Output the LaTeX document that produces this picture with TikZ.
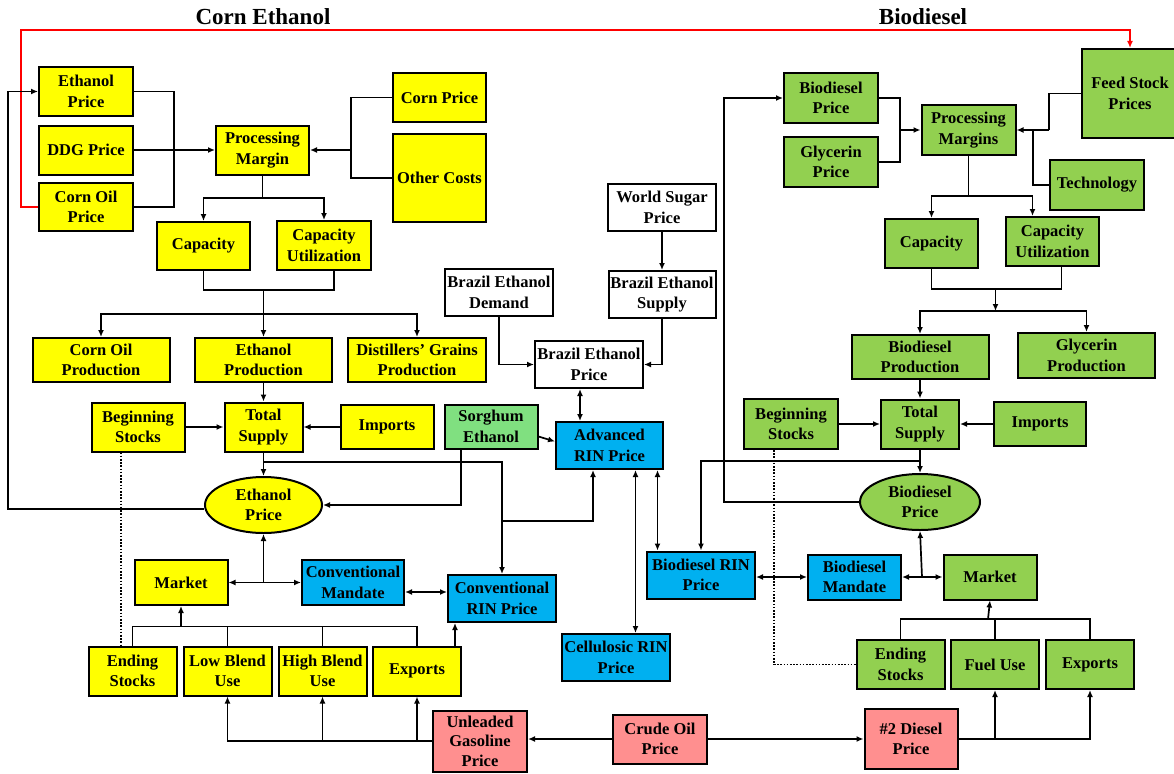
\documentclass[tikz,border=0pt]{standalone}
\usepackage{fontspec}
\setmainfont{Liberation Serif}
\usetikzlibrary{arrows.meta,shapes.geometric}
\definecolor{ethyellow}{HTML}{FFFF00}
\definecolor{biogreen}{HTML}{92D050}
\definecolor{sorggreen}{HTML}{80E080}
\definecolor{rinblue}{HTML}{00B0F0}
\definecolor{oilpink}{HTML}{FF8F8F}

\begin{document}
\begin{tikzpicture}[x=1pt, y=-1pt,
	box/.style = {draw, line width=2pt, align=center, inner sep=0pt, font=\fontsize{16.5}{20.5}\selectfont\bfseries},
	sz/.style 2 args = {minimum width=#1, minimum height=#2},
	eth/.style = {box, fill=ethyellow},
	bio/.style = {box, fill=biogreen},
	sorg/.style = {box, fill=sorggreen},
	rin/.style = {box, fill=rinblue},
	oil/.style = {box, fill=oilpink},
	wbox/.style = {box, fill=white},
	eprice/.style = {box, ellipse, fill=ethyellow},
	bprice/.style = {box, ellipse, fill=biogreen},
	ln/.style = {line width=1.7pt},
	arr/.style = {line width=1.7pt, -{Latex[length=7pt,width=6pt]}},
	darr/.style = {line width=1.7pt, {Latex[length=7pt,width=6pt]}-{Latex[length=7pt,width=6pt]}},
	redarr/.style = {line width=1.4pt, draw=red, -{Latex[length=7pt,width=6pt]}},
	dots/.style = {line width=1.6pt, dash pattern=on 1.6pt off 1.6pt},
	title/.style = {font=\fontsize{23}{26}\selectfont\bfseries}]
	\useasboundingbox (0,0) rectangle (1174,773);

	\node[title] (ttleth) at (263,17) {Corn Ethanol};
	\node[title] (ttlbio) at (923,17) {Biodiesel};

	\node[eth, sz={94}{49}] (ethp) at (86,91.5) {Ethanol\\Price};
	\node[eth, sz={94}{49}] (ddgp) at (86,150) {DDG Price};
	\node[eth, sz={94}{48}] (coilp) at (86,207) {Corn Oil\\Price};
	\node[eth, sz={93}{49}] (pmarg) at (262.5,150) {Processing\\Margin};
	\node[eth, sz={93}{49}] (cornp) at (439.5,97.5) {Corn Price};
	\node[eth, sz={93}{88}] (ocost) at (439.5,178) {Other Costs};
	\node[eth, sz={93}{48}] (ecap) at (203.5,246) {Capacity};
	\node[eth, sz={94}{49}] (ecaputil) at (324,245.5) {Capacity\\Utilization};
	\node[eth, sz={137}{44}] (coilprod) at (101,360) {Corn Oil\\Production};
	\node[eth, sz={137}{44}] (ethprod) at (263.5,360) {Ethanol\\Production};
	\node[eth, sz={138}{44}] (dgprod) at (417,360) {Distillers’ Grains\\Production};
	\node[eth, sz={93}{49}] (ebegst) at (138,427) {Beginning\\Stocks};
	\node[eth, sz={78}{49}] (etsup) at (263.5,427) {Total\\Supply};
	\node[eth, sz={93}{44}] (eimp) at (387,427) {Imports};
	\node[sorg, sz={93}{44}] (sorgh) at (491,426.5) {Sorghum\\Ethanol};
	\node[eprice, sz={117}{56}] (ethprice) at (263.5,505) {Ethanol\\Price};
	\node[eth, sz={93}{45}] (emarket) at (181,582.5) {Market};
	\node[rin, sz={102}{45}] (convmand) at (353,582.5) {Conventional\\Mandate};
	\node[rin, sz={108}{47}] (convrin) at (502,598.5) {Conventional\\RIN Price};
	\node[eth, sz={88}{49}] (eendst) at (132.5,671) {Ending\\Stocks};
	\node[eth, sz={88}{49}] (lowbl) at (227.5,671) {Low Blend\\Use};
	\node[eth, sz={88}{49}] (highbl) at (322.5,671) {High Blend\\Use};
	\node[eth, sz={88}{49}] (eexp) at (417,671) {Exports};
	\node[oil, sz={94}{61}, font=\fontsize{16.5}{19.5}\selectfont\bfseries] (unlgas) at (480,741) {Unleaded\\Gasoline\\Price};

	\node[wbox, sz={108}{47}] (bedem) at (499,292.5) {Brazil Ethanol\\Demand};
	\node[wbox, sz={108}{47}] (bepr) at (589,364.5) {Brazil Ethanol\\Price};
	\node[wbox, sz={108}{47}] (wsug) at (662,207.5) {World Sugar\\Price};
	\node[wbox, sz={107}{47}] (besup) at (662,294.5) {Brazil Ethanol\\Supply};
	\node[rin, sz={107}{47}] (advrin) at (609.5,445.5) {Advanced\\RIN Price};
	\node[rin, sz={108}{47}] (cellrin) at (616,657.5) {Cellulosic RIN\\Price};
	\node[rin, sz={108}{47}] (biorin) at (701,575) {Biodiesel RIN\\Price};
	\node[oil, sz={94}{49}] (crude) at (660,739) {Crude Oil\\Price};

	\node[bio, sz={94}{50}] (biop) at (831,98) {Biodiesel\\Price};
	\node[bio, sz={94}{50}] (glyp) at (831,162) {Glycerin\\Price};
	\node[bio, sz={94}{49}] (pmargs) at (968.5,130) {Processing\\Margins};
	\node[bio, sz={96}{89}] (feed) at (1130,93.5) {Feed Stock\\Prices};
	\node[bio, sz={94}{50}] (tech) at (1097,185) {Technology};
	\node[bio, sz={93}{49}] (bcap) at (931.5,243.5) {Capacity};
	\node[bio, sz={93}{49}] (bcaputil) at (1052.5,241.5) {Capacity\\Utilization};
	\node[bio, sz={137}{44}] (bioprod) at (920,357) {Biodiesel\\Production};
	\node[bio, sz={137}{45}] (glyprod) at (1086.5,355.5) {Glycerin\\Production};
	\node[bio, sz={94}{50}] (bbegst) at (791,424) {Beginning\\Stocks};
	\node[bio, sz={78}{49}] (btsup) at (920,424) {Total\\Supply};
	\node[bio, sz={92}{44}] (bimp) at (1040,424) {Imports};
	\node[bprice, sz={120}{56}] (bioprice) at (920,502) {Biodiesel\\Price};
	\node[rin, sz={93}{45}] (biomand) at (854.5,577) {Biodiesel\\Mandate};
	\node[bio, sz={93}{45}] (bmarket) at (990,577) {Market};
	\node[bio, sz={88}{49}] (bendst) at (900.5,664.5) {Ending\\Stocks};
	\node[bio, sz={88}{49}] (fuel) at (995,664.5) {Fuel Use};
	\node[bio, sz={88}{49}] (bexp) at (1090,664.5) {Exports};
	\node[oil, sz={93}{60}] (diesel) at (911,739) {\#2 Diesel\\Price};

	\coordinate (rtop) at (21,30);
	\coordinate (lft) at (8,300);
	\coordinate (jpm) at (174,150);
	\coordinate (jpc) at (351,150);
	\coordinate (jcap) at (262.5,198);
	\coordinate (jsum) at (263.5,290);
	\coordinate (jprod) at (263.5,314);
	\coordinate (jts) at (263.5,462);
	\coordinate (jadv) at (502,521);
	\coordinate (jmk) at (263.5,582.5);
	\coordinate (jbot) at (181,626.5);
	\coordinate (jbpm) at (900,130);
	\coordinate (jfeed) at (1049,130);
	\coordinate (jtech) at (1033,130);
	\coordinate (jbcap) at (968.5,196);
	\coordinate (jbsum) at (995.5,289);
	\coordinate (jbprod) at (995.5,311);
	\coordinate (jbts) at (920,461);
	\coordinate (bvert) at (724,300);
	\coordinate (jbmk) at (922,577);
	\coordinate (jbbot) at (988,619);

	\draw[redarr] (coilp.west) -| (rtop) -| (feed.north);
	\draw[arr] ([yshift=-4pt]ethprice.west) -| (lft) |- (ethp.west);

	\draw[ln] (ethp.east) -| (jpm);
	\draw[ln] (coilp.east) -| (jpm);
	\draw[arr] (ddgp.east) -- (pmarg.west);
	\draw[ln] (cornp.west) -| (jpc);
	\draw[ln] (ocost.west) -| (jpc);
	\draw[arr] (jpc) -- (pmarg.east);
	\draw[ln] (pmarg.south) -- (jcap);
	\draw[arr] (jcap) -| (ecap.north);
	\draw[arr] (jcap) -| (ecaputil.north);
	\draw[ln] (ecap.south) |- (jsum) -| ([xshift=10pt]ecaputil.south);
	\draw[arr] (jsum) -- (ethprod.north);
	\draw[arr] (jprod) -| (coilprod.north);
	\draw[arr] (jprod) -| (dgprod.north);
	\draw[arr] (ethprod.south) -- (etsup.north);
	\draw[arr] (ebegst.east) -- (etsup.west);
	\draw[arr] (eimp.west) -- (etsup.east);
	\draw[arr] (etsup.south) -- (ethprice.north);
	\draw[arr] (jts) -| (convrin.north);
	\draw[arr] (jadv) -| ([xshift=-16.5pt]advrin.south);
	\draw[arr] ([xshift=-30pt]sorgh.south) |- (ethprice.east);
	\draw[arr] ([yshift=-10pt]sorgh.east) -- ([yshift=4pt]advrin.west);
	\draw[arr] (jmk) -- (ethprice.south);
	\draw[arr] (jmk) -- (emarket.east);
	\draw[arr] (jmk) -- (convmand.west);
	\draw[darr] ([yshift=-9.5pt]convmand.east) -- ([yshift=-9.5pt]convmand.east -| convrin.west);
	\draw[ln] (eendst.north) |- (jbot) -| (eexp.north);
	\draw[ln] (lowbl.north) -- (lowbl.north |- jbot);
	\draw[ln] (highbl.north) -- (highbl.north |- jbot);
	\draw[arr] (jbot) -- (emarket.south);
	\draw[arr] ([xshift=38pt]eexp.north) -- ([xshift=38pt]eexp.north |- convrin.south);
	\draw[dots] ([xshift=-17pt]ebegst.south) -- ([xshift=-17pt]ebegst.south |- eendst.north);
	\draw[arr] (unlgas.west) -| (lowbl.south);
	\draw[arr] (unlgas.west -| highbl.south) -- (highbl.south);
	\draw[arr] (unlgas.west -| eexp.south) -- (eexp.south);
	\draw[arr] (crude.west) -- (unlgas.east |- crude.west);
	\draw[arr] (crude.east) -- (diesel.west);

	\draw[arr] (wsug.south) -- (besup.north);
	\draw[arr] (bedem.south) |- (bepr.west);
	\draw[arr] (besup.south) |- (bepr.east);
	\draw[darr] ([xshift=-9pt]bepr.south) -- ([xshift=-9pt]bepr.south |- advrin.north);
	\draw[darr] ([xshift=26pt]advrin.south) -- ([xshift=26pt]advrin.south |- cellrin.north);
	\draw[darr] ([xshift=48pt]advrin.south) -- ([xshift=48pt]advrin.south |- biorin.north);

	\draw[ln] (biop.east) -| (jbpm);
	\draw[ln] (glyp.east) -| (jbpm);
	\draw[arr] (jbpm) -- (pmargs.west);
	\draw[ln] (feed.west) -| (jfeed);
	\draw[arr] (jfeed) -- (pmargs.east);
	\draw[ln] (tech.west) -| (jtech);
	\draw[ln] (pmargs.south) -- (jbcap);
	\draw[arr] (jbcap) -| (bcap.north);
	\draw[arr] (jbcap) -| ([xshift=-20pt]bcaputil.north);
	\draw[ln] (bcap.south) |- (jbsum) -| ([xshift=9pt]bcaputil.south);
	\draw[arr] (jbsum) -- (jbprod);
	\draw[arr] (jbprod) -| (bioprod.north);
	\draw[arr] (jbprod) -| (glyprod.north);
	\draw[arr] (bioprod.south) -- (btsup.north);
	\draw[arr] (bbegst.east) -- (btsup.west);
	\draw[arr] (bimp.west) -- (btsup.east);
	\draw[arr] (btsup.south) -- (bioprice.north);
	\draw[arr] (jbts) -| (biorin.north);
	\draw[arr] (bioprice.west) -| (bvert) |- (biop.west);
	\draw[darr] (biomand.west) -- (biorin.east |- biomand.west);
	\draw[arr] (jbmk) -- (bioprice.south);
	\draw[arr] (jbmk) -- (biomand.east);
	\draw[arr] (jbmk) -- (bmarket.west);
	\draw[ln] (bendst.north) |- (jbbot) -| (bexp.north);
	\draw[ln] (fuel.north) -- (fuel.north |- jbbot);
	\draw[arr] (jbbot) -- (bmarket.south);
	\draw[dots] ([xshift=-17pt]bbegst.south) |- (bendst.west);
	\draw[arr] (diesel.east) -| (fuel.south);
	\draw[arr] (diesel.east) -| (bexp.south);
\end{tikzpicture}
\end{document}
